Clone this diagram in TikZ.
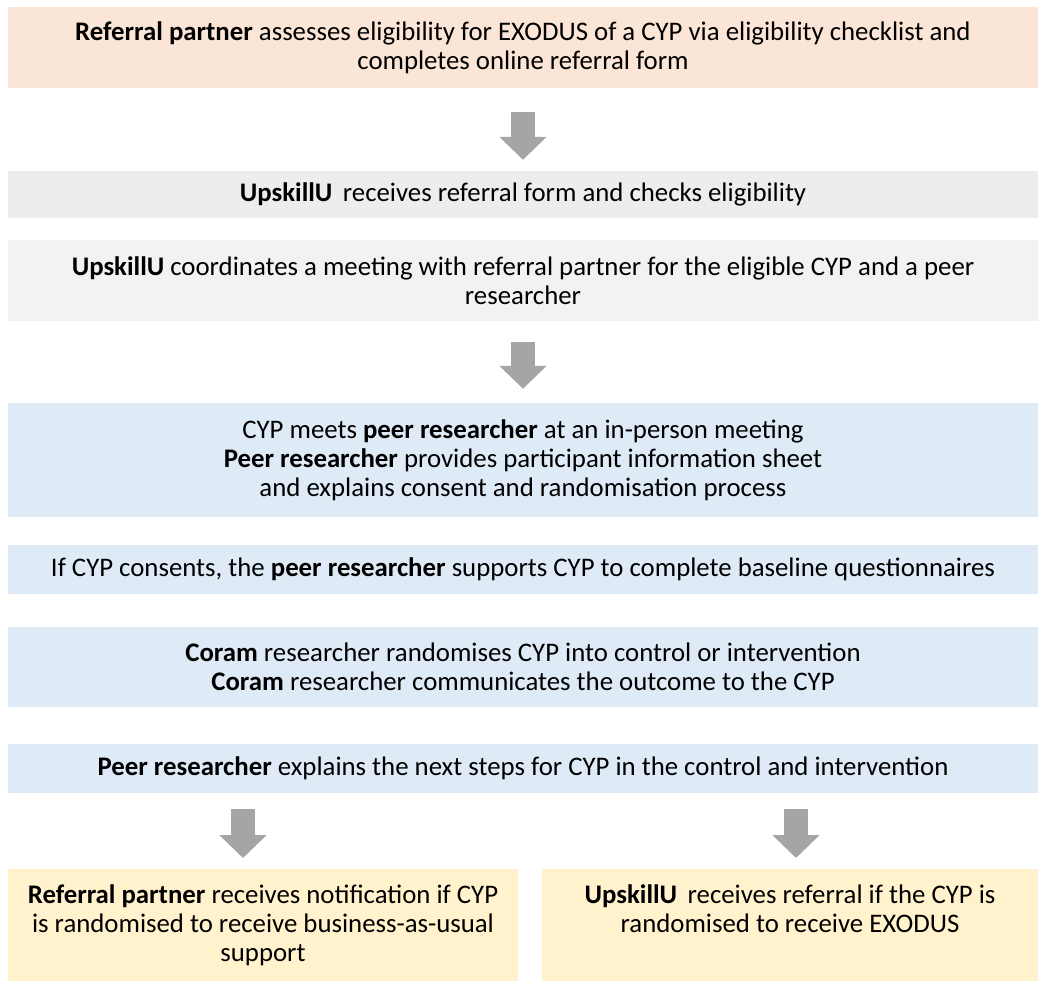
\documentclass[tikz,border=0pt]{standalone}
\usepackage{fontspec}
\setmainfont{Carlito}
\usepackage{xcolor}
\usetikzlibrary{arrows.meta}

\definecolor{peach}{HTML}{FBE5D6}
\definecolor{greyA}{HTML}{EDEDED}
\definecolor{greyB}{HTML}{F2F2F2}
\definecolor{paleblue}{HTML}{DEEBF7}
\definecolor{paleyellow}{HTML}{FFF2CC}
\definecolor{arrowgrey}{HTML}{A5A5A5}

\begin{document}
\begin{tikzpicture}[x=1pt,y=-1pt,
    stage/.style={inner sep=0pt, align=center, minimum width=1030pt,
        font=\fontsize{26.8}{29}\selectfont},
    flowarrow/.style={arrowgrey, line width=24pt,
        -{Triangle[width=46pt,length=23pt]}}]
            \useasboundingbox (0,0) rectangle (1038,981);

            % Main column of steps
            \node[stage, fill=peach, minimum height=81pt] (refer) at (523,47.5)
                {\textbf{Referral partner} assesses eligibility for EXODUS of a CYP via eligibility checklist and\\ completes online referral form};
            \node[stage, fill=greyA, minimum height=47pt] (check) at (523,194.5)
                {\textbf{UpskillU}\, receives referral form and checks eligibility};
            \node[stage, fill=greyB, minimum height=81pt] (coord) at (523,280.5)
                {\textbf{UpskillU} coordinates a meeting with referral partner for the eligible CYP and a peer\\ researcher};
            \node[stage, fill=paleblue, minimum height=114pt] (meet) at (523,460)
                {CYP meets \textbf{peer researcher} at an in-person meeting\\ \textbf{Peer researcher} provides participant information sheet\\ and explains consent and randomisation process};
            \node[stage, fill=paleblue, minimum height=49pt] (consent) at (523,569.5)
                {If CYP consents, the \textbf{peer researcher} supports CYP to complete baseline questionnaires};
            \node[stage, fill=paleblue, minimum height=80pt] (random) at (523,667)
                {\textbf{Coram} researcher randomises CYP into control or intervention\\ \textbf{Coram} researcher communicates the outcome to the CYP};
            \node[stage, fill=paleblue, minimum height=49pt] (steps) at (523,768.5)
                {\textbf{Peer researcher} explains the next steps for CYP in the control and intervention};

            % Two outcomes
            \node[stage, fill=paleyellow, minimum width=510pt, minimum height=112pt, anchor=north] (usual) at (263,869)
                {\textbf{Referral partner} receives notification if CYP\\ is randomised to receive business-as-usual\\ support\vphantom{p}};
            \node[stage, fill=paleyellow, minimum width=496pt, minimum height=112pt, anchor=north] (exodus) at (790,869)
                {\textbf{UpskillU}\, receives referral if the CYP is\\ randomised to receive EXODUS\\ \vphantom{p}};

            % Arrows
            \draw[flowarrow, shorten <=24pt, shorten >=11pt] (refer.south) -- (check.north);
            \draw[flowarrow, shorten <=21pt, shorten >=14pt] (coord.south) -- (meet.north);
            \path ([xshift=-20pt]usual.north) coordinate (lt)
                  ([xshift=6pt]exodus.north) coordinate (rt);
            \draw[flowarrow, shorten <=16pt, shorten >=11pt] (steps.south -| lt) -- (lt);
            \draw[flowarrow, shorten <=16pt, shorten >=11pt] (steps.south -| rt) -- (rt);
        \end{tikzpicture}
\end{document}
